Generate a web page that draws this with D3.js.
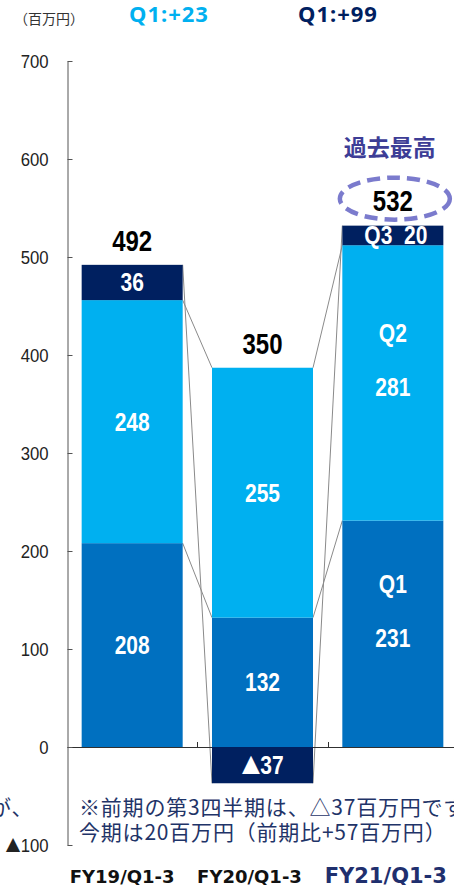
<!DOCTYPE html>
<html>
<head>
<meta charset="utf-8">
<script src="https://cdn.jsdelivr.net/npm/d3@7"></script>
<style>
  html, body { margin: 0; padding: 0; background: #fff; }
  svg { display: block; }
  text { white-space: pre; }
</style>
</head>
<body>
<svg id="chart" width="454" height="885"></svg>
<script>
// Quarterly operating income, cumulative Q1-Q3 (million yen)
const categories = ["FY19/Q1-3", "FY20/Q1-3", "FY21/Q1-3"];
const seriesNames = ["Q1", "Q2", "Q3"];
const q1Values = [208, 132, 231];
const q2Values = [248, 255, 281];
const q3Values = [36, -37, 20];
const yTickValues = [-100, 0, 100, 200, 300, 400, 500, 600, 700];
const q1Changes = ["Q1:+23", "Q1:+99"];
const unitLabel = "（百万円）";
const recordLabel = "過去最高";
const noteLines = ["※前期の第3四半期は、△37百万円です", "今期は20百万円（前期比+57百万円）"];
const leftNoteFragment = "が、";

const colors = { Q1: "#0070C0", Q2: "#00B0F0", Q3: "#002060" };
const sans = "'Liberation Sans', Arial, sans-serif";
const cjk = "'Noto Sans CJK JP', 'Noto Sans', sans-serif";
const MINUS = "▲";

const svg = d3.select("#chart");

// write a value into a text node; negative values get a large triangle glyph
function writeValue(textSel, v, prefix) {
  textSel.text(null);
  if (prefix) textSel.append("tspan").text(prefix);
  if (v < 0) {
    textSel.append("tspan").attr("font-family", cjk).attr("font-size", "0.9em").text(MINUS);
    textSel.append("tspan").text(String(Math.abs(v)));
  } else {
    textSel.append("tspan").text(String(v));
  }
  return textSel;
}

// horizontally condensed text, anchored at (x, y)
function narrowText(parent, x, y, sx) {
  return parent.append("text")
    .attr("transform", `translate(${x},${y}) scale(${sx},1)`)
    .attr("dy", "0.36em");
}

const rows = categories.map((c, i) => ({ cat: c, Q1: q1Values[i], Q2: q2Values[i], Q3: q3Values[i] }));
const stacked = d3.stack().keys(seriesNames).offset(d3.stackOffsetDiverging)(rows);
stacked.forEach(s => s.forEach(d => { d.key = s.key; }));

const y = d3.scaleLinear().domain([-100, 700]).range([845, 61]);
const x = d3.scaleBand().domain(categories).range([67, 458]).paddingInner(0.225).paddingOuter(0.1125);
const bw = x.bandwidth();
const axisX = 67.5;

const segEnd = d => (d.data[d.key] >= 0 ? d[1] : d[0]);

// series connector lines between neighbouring bars
const linesG = svg.append("g");
stacked.forEach(s => {
  for (let i = 0; i < s.length - 1; i++) {
    linesG.append("line")
      .attr("x1", x(categories[i]) + bw).attr("y1", y(segEnd(s[i])))
      .attr("x2", x(categories[i + 1])).attr("y2", y(segEnd(s[i + 1])))
      .attr("stroke", "#8a8a8a").attr("stroke-width", 1);
  }
});

// x baseline with boundary ticks
const step = x.step();
svg.append("line").attr("x1", axisX).attr("x2", 454).attr("y1", y(0) + 0.5).attr("y2", y(0) + 0.5)
  .attr("stroke", "#303030").attr("stroke-width", 1);
categories.slice(0, -1).forEach(c => {
  const bx = Math.round(x(c) + bw + (step - bw) / 2) + 0.5;
  svg.append("line").attr("x1", bx).attr("x2", bx).attr("y1", y(0)).attr("y2", y(0) - 5)
    .attr("stroke", "#303030").attr("stroke-width", 1);
});

// bars
const barsG = svg.append("g");
stacked.forEach(s => {
  barsG.selectAll(null).data(s).join("rect")
    .attr("x", d => x(d.data.cat))
    .attr("width", bw)
    .attr("y", d => y(d[1]))
    .attr("height", d => y(d[0]) - y(d[1]))
    .attr("fill", colors[s.key]);
});

// y axis
const tickSx = 0.88;
const yAxis = svg.append("g").attr("transform", `translate(${axisX},0)`)
  .call(d3.axisLeft(y).tickValues(yTickValues).tickSizeInner(-5).tickSizeOuter(0).tickPadding(19));
yAxis.select(".domain").attr("stroke", "#555");
yAxis.selectAll(".tick line").attr("stroke", "#555");
yAxis.selectAll(".tick text")
  .attr("font-family", sans).attr("font-size", 19).attr("fill", "#222")
  .attr("x", -19 / tickSx).attr("transform", `scale(${tickSx},1)`)
  .each(function (v) { writeValue(d3.select(this), v); });

// segment value labels
const segSx = 0.84;
const labelG = svg.append("g").attr("font-family", sans).attr("font-weight", "bold").attr("fill", "#fff")
  .attr("text-anchor", "middle").attr("font-size", 25);
stacked.forEach(s => {
  s.forEach((d, i) => {
    const cx = x(d.data.cat) + bw / 2;
    const cy = (y(d[0]) + y(d[1])) / 2;
    const v = d.data[s.key];
    const tagged = i === categories.length - 1;
    if (tagged && s.key === "Q3") {
      writeValue(narrowText(labelG, cx + 3, cy, segSx), v, s.key + "  ");
    } else if (tagged) {
      writeValue(narrowText(labelG, cx, cy + 4, segSx), v);
      narrowText(labelG, cx, cy - 50, segSx).text(s.key);
    } else {
      writeValue(narrowText(labelG, cx, cy, segSx), v);
    }
  });
});

// totals above bars
const totals = rows.map(r => seriesNames.reduce((a, k) => a + r[k], 0));
const tops = rows.map(r => seriesNames.reduce((a, k) => a + Math.max(0, r[k]), 0));
const totalG = svg.append("g").attr("font-family", sans).attr("font-weight", "bold").attr("font-size", 30)
  .attr("fill", "#000").attr("text-anchor", "middle");
categories.forEach((c, i) => {
  writeValue(narrowText(totalG, x(c) + bw / 2, y(tops[i]) - 25, 0.8), totals[i]);
});

// record-high callout on last bar
const lastC = categories[categories.length - 1];
const lastCx = x(lastC) + bw / 2;
const lastTop = y(tops[tops.length - 1]);
svg.append("ellipse").attr("cx", lastCx + 2).attr("cy", lastTop - 27).attr("rx", 55).attr("ry", 21)
  .attr("fill", "none").attr("stroke", "#7b7bcd").attr("stroke-width", 4.5).attr("stroke-dasharray", "13 7");
svg.append("text").attr("x", lastCx - 3).attr("y", lastTop - 70)
  .attr("text-anchor", "middle").attr("font-family", cjk).attr("font-weight", "bold").attr("font-size", 23)
  .attr("fill", "#3d3d96").text(recordLabel);

// header texts
svg.append("text").attr("x", 14).attr("y", 24).attr("font-family", cjk).attr("font-size", 14)
  .attr("fill", "#333").text(unitLabel);
const changeColors = [colors.Q2, colors.Q3];
q1Changes.forEach((t, i) => {
  svg.append("text").attr("x", [169, 338][i]).attr("y", 22).attr("text-anchor", "middle")
    .attr("font-family", "'Noto Sans', sans-serif").attr("font-weight", "bold").attr("font-size", 22)
    .attr("letter-spacing", 1).attr("fill", changeColors[i]).text(t);
});

// note
const noteG = svg.append("g").attr("font-family", cjk).attr("font-size", 21).attr("letter-spacing", 0.8)
  .attr("fill", "#1f3468");
noteLines.forEach((t, i) => {
  noteG.append("text").attr("x", 79).attr("y", 815 + i * 25).text(t);
});
noteG.append("text").attr("x", -10).attr("y", 815).text(leftNoteFragment);

// category labels
const catOffsets = [-10, -13, -7];
svg.append("g").selectAll("text").data(categories).join("text")
  .attr("x", (c, i) => x(c) + bw / 2 + catOffsets[i])
  .attr("y", 883)
  .attr("text-anchor", "middle")
  .attr("font-family", "'DejaVu Sans', sans-serif").attr("font-weight", "bold")
  .attr("font-size", (c, i) => (i === categories.length - 1 ? 21 : 18))
  .attr("fill", (c, i) => (i === categories.length - 1 ? "#1f2f6e" : "#111"))
  .text(c => c);
</script>
</body>
</html>
